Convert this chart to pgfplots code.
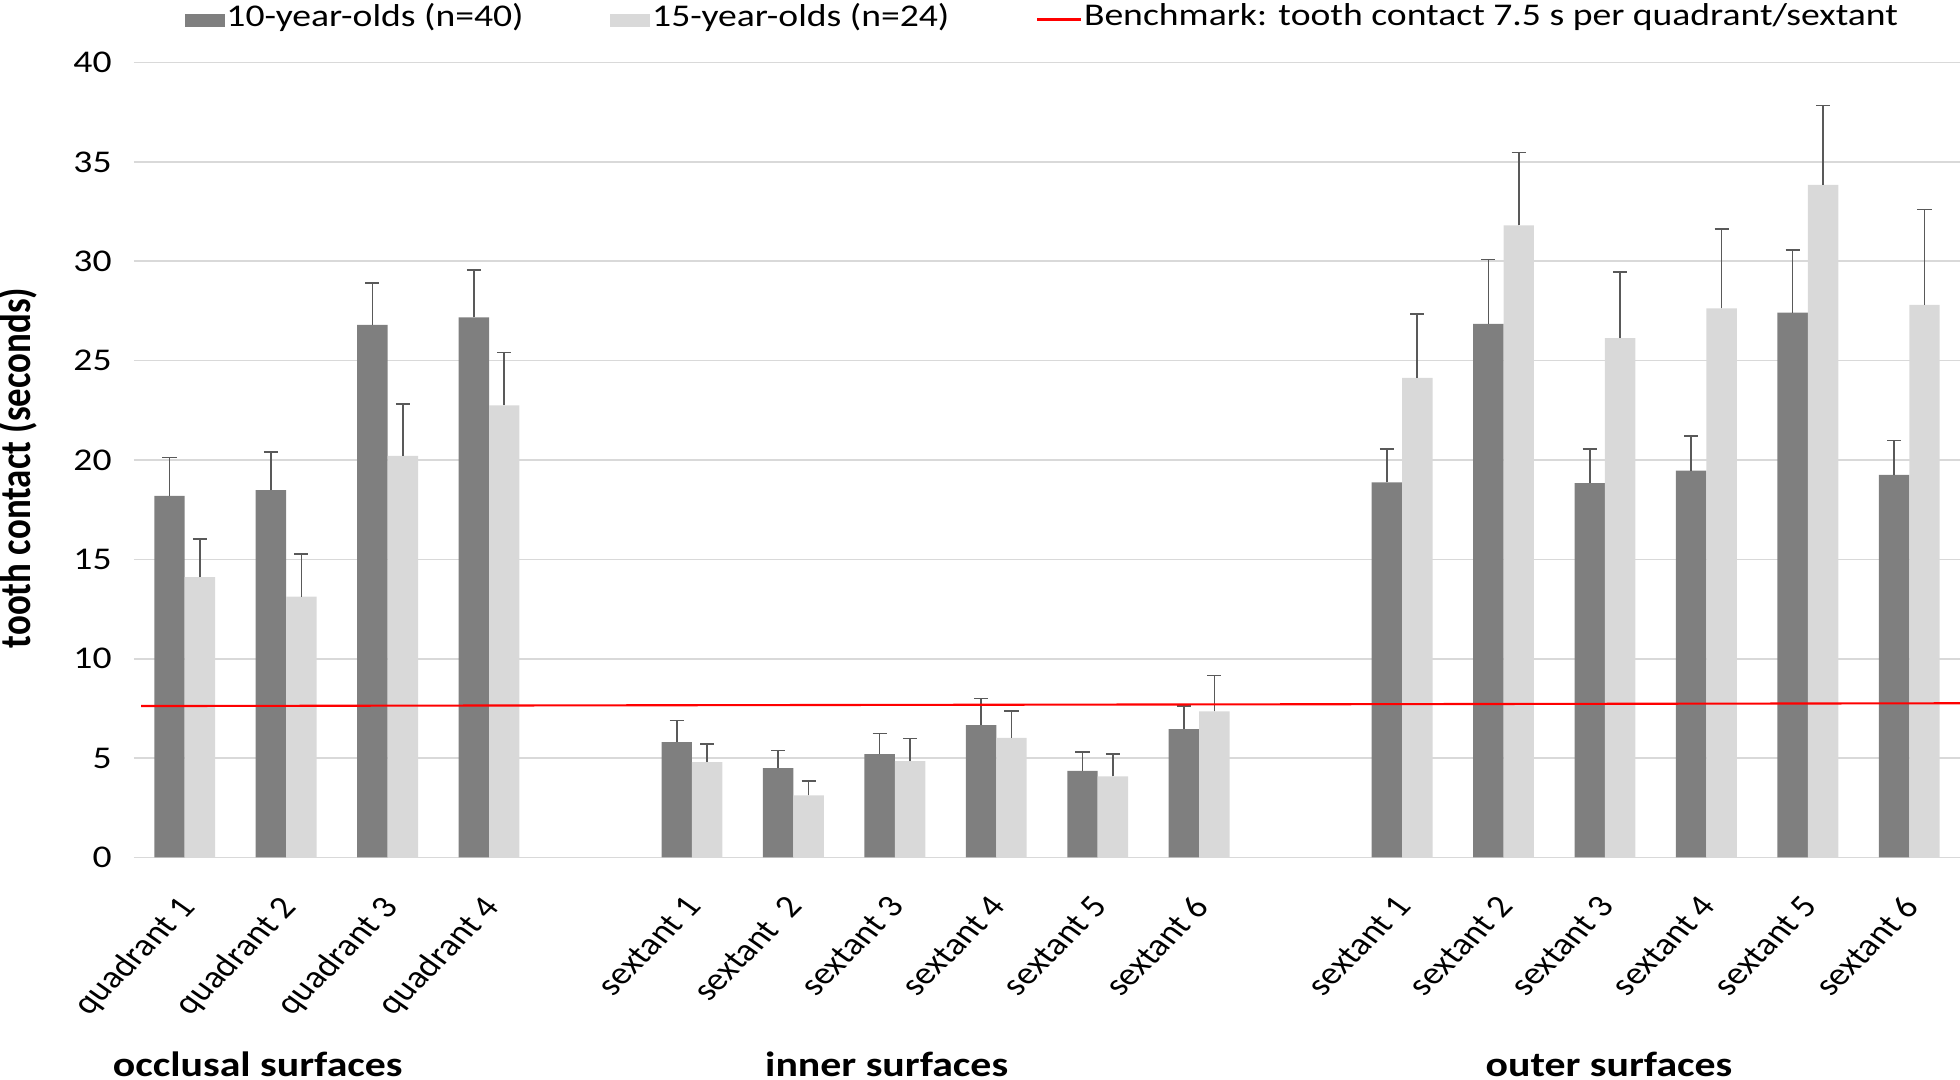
\documentclass[border=0pt]{standalone}
\usepackage{pgfplots}
\pgfplotsset{compat=1.18}
\usepackage{pgfplotstable}
\usepackage{fontspec}
% the reference is stretched sideways by about 1.19
\setmainfont{Carlito}[FakeStretch=1.19]
\newfontfamily\plainfont{Carlito}

\definecolor{darkbar}{HTML}{7F7F7F}
\definecolor{lightbar}{HTML}{D9D9D9}
\definecolor{gridgray}{HTML}{D9D9D9}
\definecolor{errgray}{HTML}{595959}

% slot x: 0-3 quadrants, 4 empty, 5-10 inner sextants, 11 empty, 12-17 outer sextants
% d = 10-year-olds, l = 15-year-olds, *e = upper error
\pgfplotstableread{
x  d     de    l     le
0  18.19 1.94  14.11 1.92
1  18.48 1.92  13.12 2.16
2  26.80 2.11  20.21 2.62
3  27.17 2.40  22.75 2.66
5  5.81  1.09  4.80  0.92
6  4.50  0.89  3.12  0.72
7  5.20  1.04  4.85  1.14
8  6.66  1.33  6.02  1.36
9  4.36  0.96  4.08  1.14
10 6.46  1.17  7.35  1.81
12 18.88 1.68  24.13 3.23
13 26.85 3.23  31.81 3.66
14 18.83 1.73  26.13 3.34
15 19.47 1.73  27.63 4.00
16 27.41 3.15  33.84 4.00
17 19.25 1.74  27.81 4.80
}\data

\begin{document}
\begin{tikzpicture}
\begin{axis}[
  width=18.26cm, height=7.95cm, scale only axis,
  xmin=-0.5, xmax=17.5, ymin=0, ymax=40,
  clip=false,
  axis x line*=bottom, axis y line*=left,
  x axis line style={gridgray, line width=0.45pt},
  y axis line style={draw=none},
  ytick={0,5,...,40},
  ymajorgrids, grid style={gridgray, line width=0.45pt},
  ytick style={draw=none},
  yticklabel style={font=\fontsize{9}{11}\selectfont, xshift=-0.1cm},
  /pgf/number format/assume math mode=true,
  xtick={0,...,17},
  xtick style={draw=none},
  xticklabels={quadrant 1,quadrant 2,quadrant 3,quadrant 4,{},
    sextant 1,sextant~~2,sextant 3,sextant 4,sextant 5,sextant 6,{},
    sextant 1,sextant 2,sextant 3,sextant 4,sextant 5,sextant 6},
  xticklabel style={font=\plainfont\fontsize{9}{10}\selectfont, inner sep=0pt,
    xshift=-0.08cm, yshift=-0.36cm, xscale=1.19, rotate=50, anchor=north east},
  extra x ticks={-0.5,0.5,...,17.5},
  extra x tick labels={},
  extra x tick style={grid=none, tick align=outside, major tick length=0.1cm,
    tick style={draw=gridgray, line width=0.45pt}},
  every axis y label/.style={at={(axis description cs:0,0.49)}, xshift=-1.165cm,
    xscale=1.19, rotate=90, anchor=center,
    font=\plainfont\fontsize{10.5}{12}\selectfont\bfseries},
  ylabel={tooth contact (seconds)},
  legend style={at={(0.0274,1)}, anchor=west, yshift=0.45cm, draw=none, fill=none,
    inner sep=0pt, legend columns=3,
    font=\fontsize{9}{11}\selectfont,
    nodes={inner sep=0.5pt},
    /tikz/every even column/.append style={column sep=0.85cm}},
]
\addplot[ybar, bar width=0.3, bar shift=0pt, fill=darkbar, draw=none,
  legend image code/.code={\fill[darkbar] (0cm,-0.1cm) rectangle (0.40cm,0.03cm);},
  error bars/.cd, y dir=plus, y explicit,
  error bar style={errgray, line width=0.45pt},
  error mark options={rotate=90, mark size=2pt, errgray, line width=0.45pt}]
  table[x expr=\thisrow{x}-0.15, y=d, y error=de] {\data};
\addlegendentry{10-year-olds (n=40)}
\addplot[ybar, bar width=0.3, bar shift=0pt, fill=lightbar, draw=none,
  legend image code/.code={\fill[lightbar] (0cm,-0.1cm) rectangle (0.40cm,0.03cm);},
  error bars/.cd, y dir=plus, y explicit,
  error bar style={errgray, line width=0.45pt},
  error mark options={rotate=90, mark size=2pt, errgray, line width=0.45pt}]
  table[x expr=\thisrow{x}+0.15, y=l, y error=le] {\data};
\addlegendentry{15-year-olds (n=24)}
\addplot[red, line width=0.6pt, mark=none,
  legend image code/.code={\draw[red, line width=0.6pt] (0cm,-0.02cm) -- (0.44cm,-0.02cm);}]
  coordinates {(-0.43,7.62) (17.5,7.76)};
\addlegendentry{Benchmark: tooth contact 7.5 s per quadrant/sextant}

\node[anchor=base, yshift=-2.19cm, font=\fontsize{10}{12}\selectfont\bfseries]
  at (axis cs:0.72,0) {occlusal surfaces};
\node[anchor=base, yshift=-2.19cm, font=\fontsize{10}{12}\selectfont\bfseries]
  at (axis cs:6.92,0) {inner surfaces};
\node[anchor=base, yshift=-2.19cm, font=\fontsize{10}{12}\selectfont\bfseries]
  at (axis cs:14.04,0) {outer surfaces};
\end{axis}
\pgfresetboundingbox
\path[use as bounding box] (-1.34cm,-2.225cm) rectangle (18.26cm,8.575cm);
\end{tikzpicture}
\end{document}
